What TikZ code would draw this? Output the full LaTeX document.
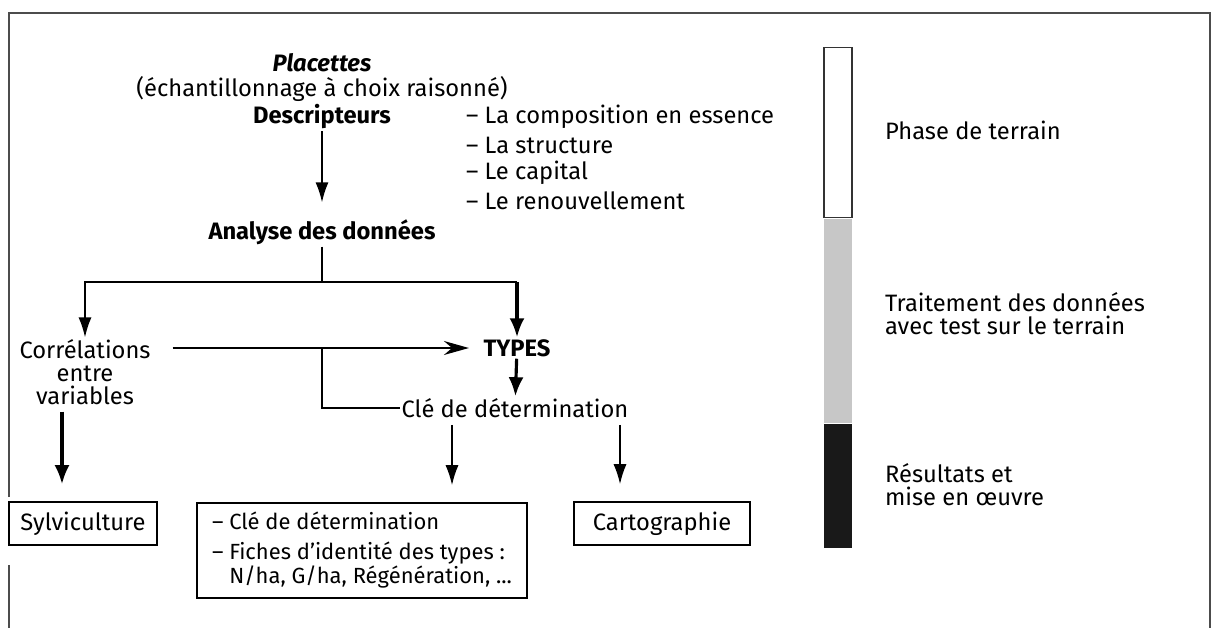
\documentclass[tikz,border=0pt]{standalone}
\usepackage{fontspec}
\setmainfont{Fira Sans}
\usetikzlibrary{arrows.meta, positioning, calc}
\tikzset{
  txt/.style = {
    inner sep=1pt,
    align=center,
    font=\fontsize{13.5}{13}\selectfont,
  },
  boxed/.style = {
    txt,
    draw,
    line width=0.9pt,
    minimum height=0.86cm,
  },
  goes/.style = {
    -{Latex[length=0.4cm, width=0.26cm]},
    line width=0.9pt,
  },
  bigArrow/.style = {
    -{Latex[length=0.38cm, width=0.3cm]},
    line width=1.8pt,
  },
  frameLine/.style = {
    draw=black!70,
    line width=1.1pt,
  },
}

\begin{document}
\begin{tikzpicture}[
  x=0.02cm, y=-0.02cm,
  heading/.style = {
    txt,
    font=\fontsize{13.5}{13}\selectfont\bfseries,
  },
  item/.style = {
    txt,
    anchor=west,
    align=left,
  },
  toTypes/.style = {
    -{Stealth[length=0.5cm, width=0.28cm]},
    line width=0.9pt,
  },
  phase/.style = {
    draw=black!80,
    line width=0.8pt,
    minimum width=0.56cm,
    inner sep=0pt,
  },
]
\useasboundingbox (0,0) rectangle (1213,628);

% frame
\draw[frameLine] (9,497) -- (9,13) -- (1210,13) -- (1210,628);
\draw[frameLine] (9,565) -- (9,628);

\node(Placettes)[heading, font=\fontsize{13.5}{13}\selectfont\bfseries\itshape] at (322,63) {Placettes};
\node(Echant)[txt] at (322,89) {(échantillonnage à choix raisonné)};
\node(Desc)[heading] at (322,117) {Descripteurs};
\foreach \name/\y/\text in {
  Compo/117/La composition en essence,
  Struct/145/La structure,
  Capital/173/Le capital,
  Renouv/201/Le renouvellement}{
  \node(\name)[item] at (464,\y) {– \text};
}
\node(Analyse)[heading] at (322,232) {Analyse des données};

\node(Correl)[txt] at (85,372) {Corrélations\\entre\\variables};
\node(Types)[heading] at (517,348) {TYPES};
\node(Cle)[txt] at (515,408) {Clé de détermination};

\node(Sylv)[boxed, minimum width=2.96cm] at (83,523.5) {Sylviculture};
\node(Fiches)[boxed, align=left, minimum width=6.6cm, minimum height=1.9cm,
  font=\fontsize{12.5}{12.5}\selectfont] at (362,550.5)
  {– Clé de détermination\\[4.5pt]– Fiches d'identité des types :\\\phantom{– }N/ha, G/ha, Régénération, ...};
\node(Carto)[boxed, minimum width=3.52cm] at (662,523.5) {Cartographie};

% phases bar
\node(Terrain)[phase, fill=white, minimum height=3.4cm, anchor=north] at (838,47) {};
\node(Traitement)[phase, draw=none, fill=black!22, minimum height=4.08cm, anchor=north] at (Terrain.south) {};
\node(Resultats)[phase, draw=none, fill=black!90, minimum height=2.48cm, anchor=north] at (Traitement.south) {};
\node(TerrainTxt)[item] at (883,130) {Phase de terrain};
\node(TraitementTxt)[item] at (883,314) {Traitement des données\\avec test sur le terrain};
\node(ResultatsTxt)[item] at (883,485) {Résultats et\\mise en œuvre};

\coordinate(Split) at (322,282);
\coordinate(Branch) at (322,347);
\coordinate(A0) at (62,0);
\coordinate(A1) at (452,0);
\coordinate(A2) at (620,0);

\draw[goes, shorten >=0.3cm] (Desc) -- (Analyse);
\draw[line width=0.9pt] (Analyse) -- (Split);
\draw[goes] (Split) -| (Correl);
\draw[line width=0.9pt] (Split) -- (Split -| Types) coordinate(Corner);
\draw[bigArrow] (Corner) -- (Types);
\draw[toTypes, shorten <=0.4cm, shorten >=0.25cm] (Types.west -| Correl.east) -- (Types.west);
\draw[line width=0.9pt] (Branch) |- (Cle.west);
\draw[bigArrow] (Types) -- (Cle);
\draw[goes, shorten <=0.1cm, shorten >=0.34cm] (Cle.south -| A1) -- (Fiches.north -| A1);
\draw[goes, shorten <=0.1cm, shorten >=0.34cm] (Cle.south -| A2) -- (Carto.north -| A2);
\draw[bigArrow, shorten <=0.1cm, shorten >=0.34cm] (Correl.south -| A0) -- (Sylv.north -| A0);

\end{tikzpicture}
\end{document}
